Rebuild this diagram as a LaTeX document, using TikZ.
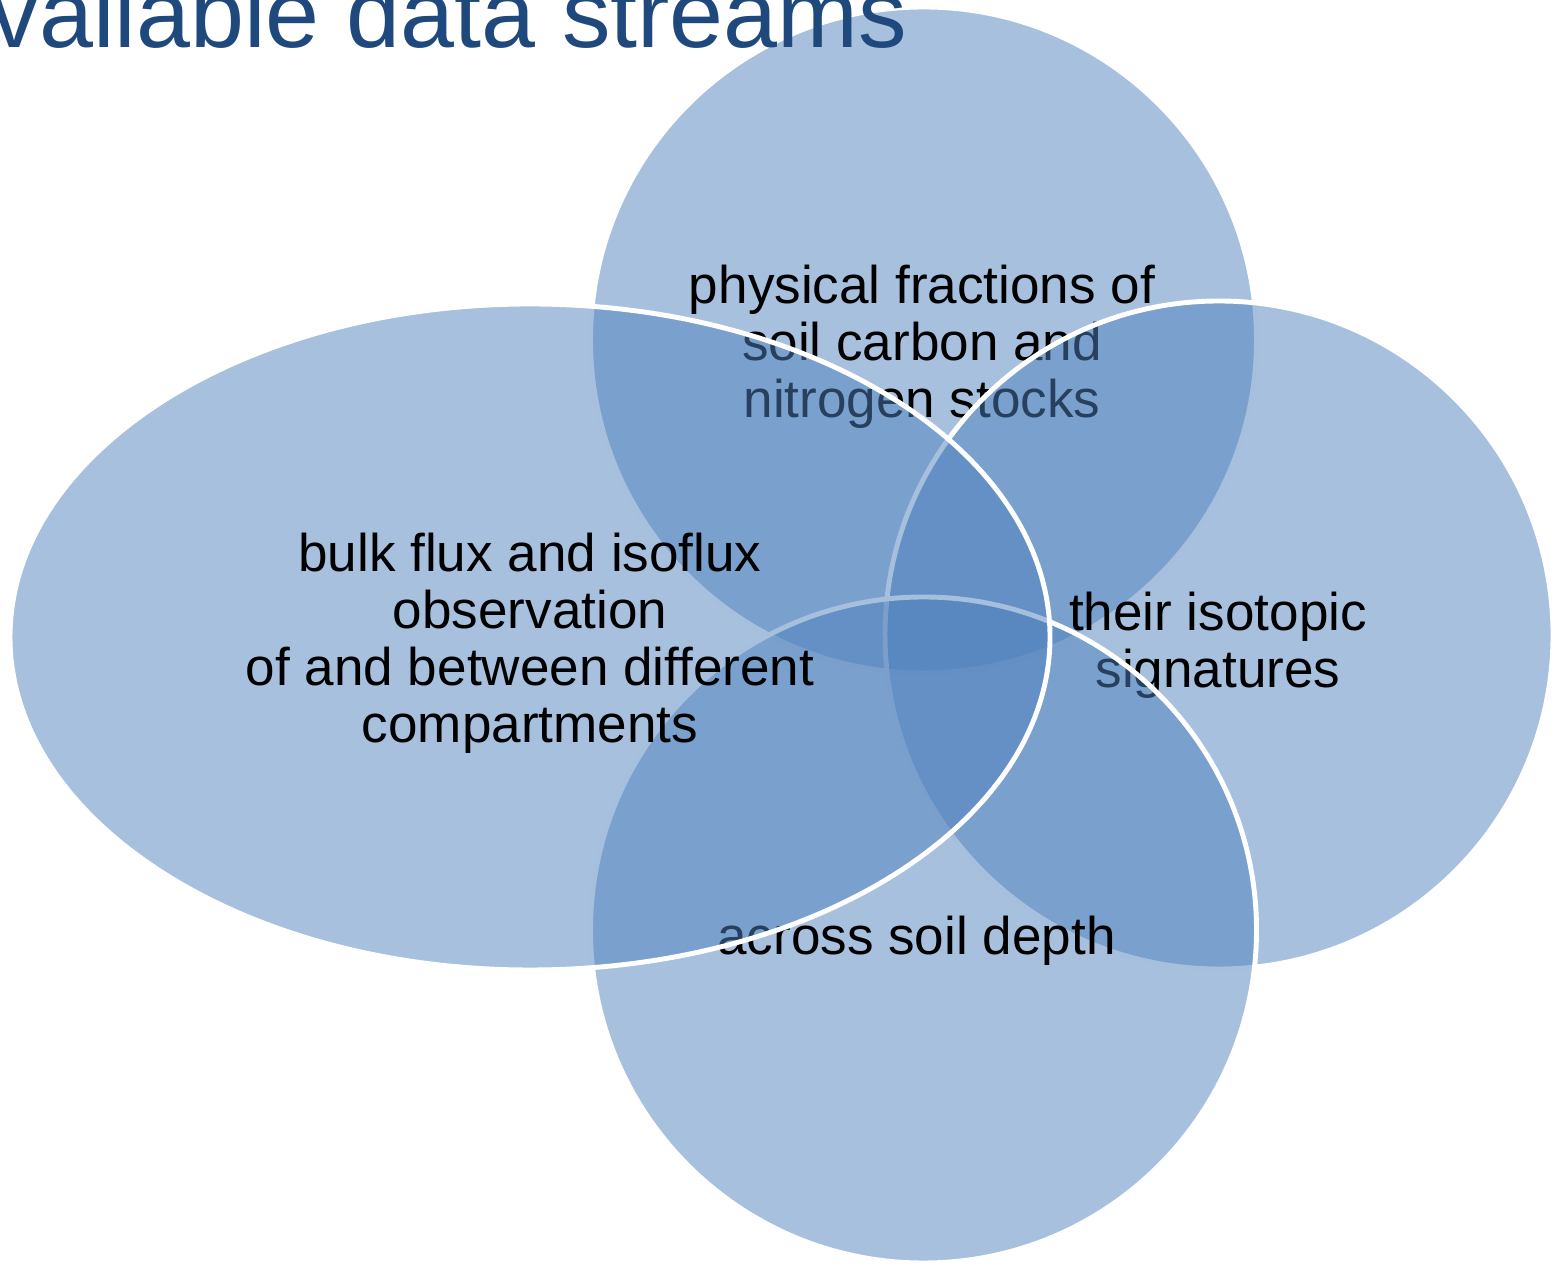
\documentclass[tikz,border=0pt]{standalone}
\usepackage{fontspec}
\setmainfont{Liberation Sans}
\usepackage{tikz}
\definecolor{vennblue}{RGB}{79,129,189}
\definecolor{titleblue}{RGB}{31,73,125}
\usetikzlibrary{shapes.geometric}

\begin{document}
\begin{tikzpicture}[menge/.style={draw=white, line width=1.4pt, fill=vennblue, fill opacity=0.5, inner sep=0pt},
			beschriftung/.style={align=center, inner sep=0pt, text=black, font=\fontsize{15.1}{16.2}\selectfont},
			x=10mm, y=10mm]
			% Bildbereich
			\clip (0,0) rectangle (15.54,12.65);
			% Mengen mit Beschriftung, Reihenfolge wichtig (Transparenz)
			\node[menge, circle, minimum size=66.6mm] (fractions) at (9.235,9.25) {};
			\node[beschriftung] (fractions text) at (9.22,9.185) {physical fractions of\\soil carbon and\\nitrogen stocks};
			\node[menge, circle, minimum size=66.8mm] (isotopes) at (12.19,6.30) {};
			\node[beschriftung] (isotopes text) at (12.18,6.20) {their isotopic\\signatures};
			\node[menge, circle, minimum size=66.6mm] (depth) at (9.235,3.35) {};
			\node[beschriftung] (depth text) at (9.165,3.24) {across soil depth};
			\node[menge, ellipse, minimum width=104mm, minimum height=66.6mm] (fluxes) at (5.30,6.28) {};
			\node[beschriftung] (fluxes text) at (5.30,6.22) {bulk flux and isoflux\\observation\\of and between different\\compartments};
			% Titel (oben links angeschnitten)
			\node[anchor=base east, inner sep=0pt, text=titleblue, font=\fontsize{27.6}{33}\selectfont] (title) at (9.08,12.17) {Available data streams};
		\end{tikzpicture}
\end{document}
